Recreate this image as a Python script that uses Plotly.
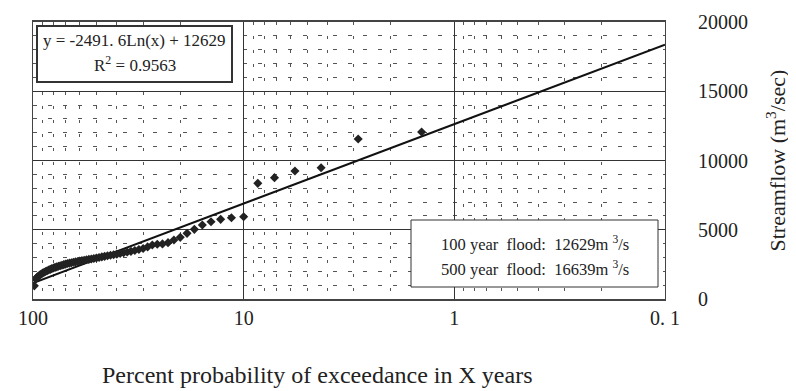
import math
import plotly.graph_objects as go

# Plotting positions (percent probability of exceedance) and streamflow (m3/s)
exceedance_pct = [1.43, 2.86, 4.29, 5.71, 7.14, 8.57, 10.0, 11.43, 12.86, 14.29,
                  15.71, 17.14, 18.57, 20.0, 21.43, 22.86, 24.29, 25.71, 27.14, 28.57,
                  30.0, 31.43, 32.86, 34.29, 35.71, 37.14, 38.57, 40.0, 41.43, 42.86,
                  44.29, 45.71, 47.14, 48.57, 50.0, 51.43, 52.86, 54.29, 55.71, 57.14,
                  58.57, 60.0, 61.43, 62.86, 64.29, 65.71, 67.14, 68.57, 70.0, 71.43,
                  72.86, 74.29, 75.71, 77.14, 78.57, 80.0, 81.43, 82.86, 84.29, 85.71,
                  87.14, 88.57, 90.0, 91.43, 92.86, 94.29, 95.71, 97.14, 98.57]
streamflow = [12060, 11550, 9480, 9240, 8760, 8350, 5940, 5870, 5750, 5580,
              5340, 5030, 4740, 4450, 4260, 4070, 3980, 3950, 3900, 3760,
              3650, 3570, 3500, 3440, 3390, 3340, 3290, 3240, 3200, 3160,
              3120, 3080, 3040, 3000, 2960, 2920, 2890, 2860, 2830, 2800,
              2770, 2740, 2710, 2680, 2650, 2620, 2590, 2560, 2520, 2480,
              2440, 2400, 2360, 2320, 2280, 2240, 2190, 2140, 2090, 2040,
              1990, 1930, 1870, 1800, 1730, 1650, 1560, 1450, 950]

# Logarithmic trendline: y = a*ln(x) + b
trend_a = -2491.6
trend_b = 12629
trend_x = [100, 0.1]

x_tickvals = [100, 10, 1, 0.1]
x_ticktext = ["100", "10", "1", "0. 1"]
y_tickvals = [0, 5000, 10000, 15000, 20000]
y_ticktext = ["0", "5000", "10000", "15000", "20000"]
x_minor = [90, 80, 70, 60, 50, 40, 30, 20, 9, 8, 7, 6, 5, 4, 3, 2,
           0.9, 0.8, 0.7, 0.6, 0.5, 0.4, 0.3, 0.2]

trend_y = [trend_a * math.log(v) + trend_b for v in trend_x]

FONT = "Liberation Serif"
INK = "#222222"

# plot area in window pixels: x 33..665, y 22..299 (page has an 8px body margin)
PX0, PX1, PY0, PY1 = 33, 665, 22, 299
PW, PH = PX1 - PX0, PY1 - PY0


def px(x):
    return (x - PX0) / PW


def py(y):
    return (PY1 - y) / PH


fig = go.Figure()
fig.add_trace(go.Scatter(x=trend_x, y=trend_y, mode="lines",
                         line=dict(color="#111111", width=2), showlegend=False,
                         hoverinfo="skip"))
fig.add_trace(go.Scatter(x=exceedance_pct, y=streamflow, mode="markers",
                         marker=dict(symbol="diamond", size=7, color=INK),
                         showlegend=False))

fig.update_layout(
    width=788, height=383,
    margin=dict(l=PX0 - 8, r=796 - PX1, t=PY0 - 8, b=391 - PY1),
    paper_bgcolor="white", plot_bgcolor="white",
    font=dict(family=FONT, color=INK, size=20),
    xaxis=dict(type="log", range=[2, -1], tickvals=x_tickvals, ticktext=x_ticktext,
               automargin=False,
               showgrid=True, gridcolor="#333333", gridwidth=1,
               ticks="",
               tickfont=dict(size=20, family=FONT),
               showline=True, linecolor="#444444", linewidth=2, mirror=True,
               minor=dict(tickvals=x_minor, showgrid=True, gridcolor="#555555",
                          gridwidth=1, griddash="3px,11px"),
               zeroline=False),
    yaxis=dict(side="right", range=[0, 20000], tickvals=y_tickvals, ticktext=y_ticktext,
               automargin=False,
               showgrid=True, gridcolor="#333333", gridwidth=1,
               ticks="outside", ticklen=28, tickcolor="rgba(0,0,0,0)",
               tickfont=dict(size=20, family=FONT),
               showline=True, linecolor="#444444", linewidth=1, mirror=True,
               minor=dict(dtick=1000, showgrid=True, gridcolor="#555555",
                          gridwidth=1, griddash="4px,11px"),
               zeroline=False),
)

# Y axis title
fig.add_annotation(xref="paper", yref="paper", x=px(775), y=0.5,
                   xanchor="center", yanchor="middle", textangle=-90,
                   text="Streamflow (m<sup>3</sup>/sec)", showarrow=False,
                   font=dict(size=22, family=FONT, color=INK))

# Equation box
fig.add_shape(type="rect", xref="paper", yref="paper", x0=px(37), x1=px(232),
              y0=py(82), y1=py(26), line=dict(color="#333333", width=2),
              fillcolor="white", layer="above")
fig.add_annotation(xref="paper", yref="paper", x=px(134.5), y=py(41),
                   xanchor="center", yanchor="middle",
                   text="y = -2491. 6Ln(x) + 12629", showarrow=False,
                   font=dict(size=17, family=FONT, color=INK))
fig.add_annotation(xref="paper", yref="paper", x=px(134.5), y=py(64),
                   xanchor="center", yanchor="middle",
                   text="R<sup>2</sup> = 0.9563", showarrow=False,
                   font=dict(size=17, family=FONT, color=INK))

# Flood box
fig.add_shape(type="rect", xref="paper", yref="paper", x0=px(411), x1=px(658),
              y0=py(287), y1=py(220), line=dict(color="#333333", width=1),
              fillcolor="white", layer="above")
fig.add_annotation(xref="paper", yref="paper", x=px(534.5), y=py(243),
                   xanchor="center", yanchor="middle",
                   text="100 year  flood:  12629m <sup>3</sup>/s", showarrow=False,
                   font=dict(size=16.5, family=FONT, color=INK))
fig.add_annotation(xref="paper", yref="paper", x=px(534.5), y=py(268),
                   xanchor="center", yanchor="middle",
                   text="500 year  flood:  16639m <sup>3</sup>/s", showarrow=False,
                   font=dict(size=16.5, family=FONT, color=INK))

# X axis title
fig.add_annotation(xref="paper", yref="paper", x=px(317), y=py(375),
                   xanchor="center", yanchor="middle",
                   text="Percent probability of exceedance in X years",
                   showarrow=False, font=dict(size=24, family=FONT, color=INK))

fig.write_html("out.html")
